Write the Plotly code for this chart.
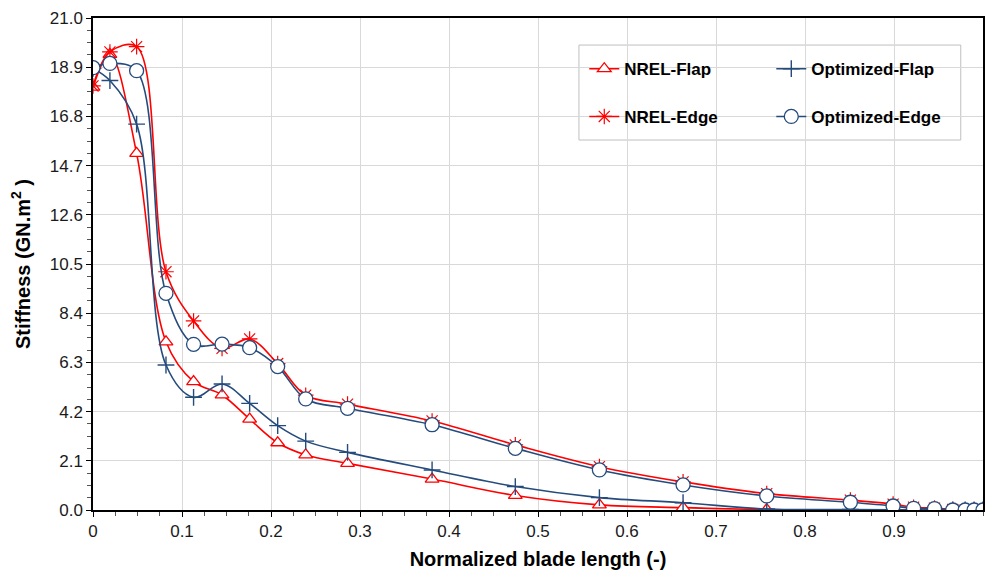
import plotly.graph_objects as go

x_pos = [0, 0.019, 0.049, 0.082, 0.113, 0.145, 0.176, 0.2075, 0.239, 0.286, 0.381,
         0.4745, 0.569, 0.663, 0.757, 0.851, 0.899, 0.922, 0.9455, 0.966, 0.98, 0.99, 1.0]

nrel_flap = [18.05, 19.45, 15.22, 7.18, 5.48, 4.91, 3.88, 2.87, 2.35, 1.99, 1.32,
             0.62, 0.22, 0.10, 0.02, 0.01, 0.0, 0.0, 0.0, 0.0, 0.0, 0.0, 0.0]
opt_flap = [18.85, 18.33, 16.47, 6.19, 4.81, 5.38, 4.55, 3.60, 2.94, 2.46, 1.71,
            1.00, 0.53, 0.31, 0.04, 0.02, 0.01, 0.0, 0.0, 0.0, 0.0, 0.0, 0.0]
nrel_edge = [18.10, 19.55, 19.78, 10.17, 8.07, 6.90, 7.30, 6.25, 4.90, 4.52, 3.80,
             2.78, 1.85, 1.20, 0.70, 0.42, 0.25, 0.12, 0.08, 0.02, 0.0, 0.0, 0.0]
opt_edge = [18.88, 19.06, 18.75, 9.25, 7.07, 7.08, 6.93, 6.12, 4.74, 4.34, 3.64,
            2.63, 1.71, 1.07, 0.60, 0.33, 0.17, 0.07, 0.06, 0.0, 0.0, 0.0, 0.0]

y_ticks = [0.0, 2.1, 4.2, 6.3, 8.4, 10.5, 12.6, 14.7, 16.8, 18.9, 21.0]
x_ticks = [0, 0.1, 0.2, 0.3, 0.4, 0.5, 0.6, 0.7, 0.8, 0.9]
x_tick_labels = ["0", "0.1", "0.2", "0.3", "0.4", "0.5", "0.6", "0.7", "0.8", "0.9"]

RED = "#FF0000"
NAVY = "#254B7D"
FONT = "Liberation Sans, Arial, sans-serif"

fig = go.Figure()

fig.add_trace(go.Scatter(
    x=x_pos, y=nrel_flap, name="NREL-Flap", mode="lines+markers",
    line=dict(color=RED, width=1.6, shape="spline", smoothing=1.0),
    marker=dict(symbol="triangle-up", size=12, color="white",
                line=dict(color=RED, width=1.3)),
    legend="legend"))
fig.add_trace(go.Scatter(
    x=x_pos, y=opt_flap, name="Optimized-Flap", mode="lines+markers",
    line=dict(color=NAVY, width=1.6, shape="spline", smoothing=1.0),
    marker=dict(symbol="cross-thin-open", size=12, color=NAVY,
                line=dict(color=NAVY, width=1.4)),
    legend="legend"))
fig.add_trace(go.Scatter(
    x=x_pos, y=nrel_edge, name="NREL-Edge", mode="lines+markers",
    line=dict(color=RED, width=1.6, shape="spline", smoothing=1.0),
    marker=dict(symbol="asterisk-open", size=13, color=RED,
                line=dict(color=RED, width=1.2)),
    legend="legend2"))
fig.add_trace(go.Scatter(
    x=x_pos, y=opt_edge, name="Optimized-Edge", mode="lines+markers",
    line=dict(color=NAVY, width=1.6, shape="spline", smoothing=1.0),
    marker=dict(symbol="circle", size=14, color="white",
                line=dict(color=NAVY, width=1.3)),
    legend="legend2"))

leg_common = dict(orientation="h", xanchor="left", yanchor="middle",
                  bgcolor="rgba(0,0,0,0)", borderwidth=0,
                  entrywidth=142, entrywidthmode="pixels",
                  font=dict(family=FONT, size=17, color="black", weight="bold"),
                  itemclick=False)

fig.update_layout(
    width=985, height=575,
    margin=dict(l=93, r=0, t=18, b=65),
    paper_bgcolor="white", plot_bgcolor="white",
    font=dict(family=FONT, size=17, color="#1a1a1a"),
    showlegend=True,
    legend=dict(x=0.552, y=0.896, **leg_common),
    legend2=dict(x=0.552, y=0.799, **leg_common),
    shapes=[dict(type="rect", xref="paper", yref="paper",
                 x0=0.546, x1=0.975, y0=0.752, y1=0.945,
                 line=dict(color="#BFBFBF", width=1), fillcolor="white",
                 layer="below")],
    xaxis=dict(
        range=[0, 1], tickvals=x_ticks, ticktext=x_tick_labels,
        showgrid=True, gridcolor="#D9D9D9", gridwidth=1,
        showline=True, linecolor="black", linewidth=1.5, mirror=True,
        ticks="outside", ticklen=5, tickcolor="black", tickwidth=1,
        minor=dict(dtick=0.025, ticks="outside", ticklen=4, tickcolor="#555", showgrid=False),
        tickfont=dict(size=17, color="#1a1a1a"),
        zeroline=False,
        title=dict(text="Normalized blade length (-)", standoff=12,
                   font=dict(size=20, color="black", weight="bold")),
    ),
    yaxis=dict(
        range=[0, 21], tickvals=y_ticks, ticktext=[f"{v:.1f}" for v in y_ticks],
        showgrid=True, gridcolor="#D9D9D9", gridwidth=1,
        showline=True, linecolor="black", linewidth=1.5, mirror=True,
        ticks="outside", ticklen=5, tickcolor="black", tickwidth=1,
        minor=dict(dtick=0.525, tick0=0, ticks="outside", ticklen=4, tickcolor="#555", showgrid=False),
        tickfont=dict(size=17, color="#1a1a1a"),
        zeroline=False,
        title=dict(text="Stiffness (GN.m<sup>2</sup> )", standoff=14,
                   font=dict(size=20, color="black", weight="bold")),
    ),
)

fig.write_html("out.html")
